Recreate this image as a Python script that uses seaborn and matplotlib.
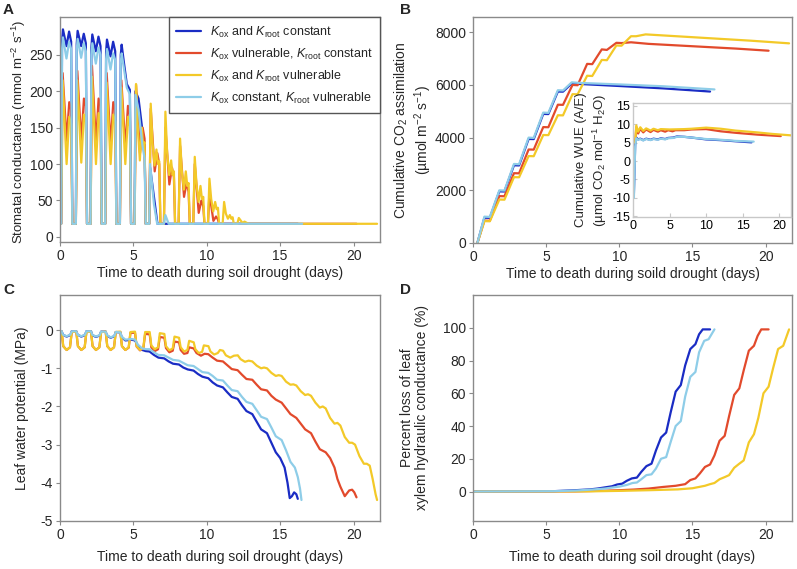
import matplotlib
matplotlib.use("Agg")
import matplotlib.pyplot as plt
import seaborn as sns

# ---- series names and colours -------------------------------------------
labels = [
    r"$K_{\mathrm{ox}}$ and $K_{\mathrm{root}}$ constant",
    r"$K_{\mathrm{ox}}$ vulnerable, $K_{\mathrm{root}}$ constant",
    r"$K_{\mathrm{ox}}$ and $K_{\mathrm{root}}$ vulnerable",
    r"$K_{\mathrm{ox}}$ constant, $K_{\mathrm{root}}$ vulnerable",
]
colors = ["#1a2cc4", "#e24a2c", "#f3c928", "#8ecde8"]

# ---- A: stomatal conductance (day, mmol m-2 s-1) ---------------------------
gs_dark = [
    (0, 18), (0.08, 18), (0.14, 268), (0.2, 285), (0.44, 262), (0.62, 282), (0.76, 268), (0.84, 18),
    (1.08, 18), (1.14, 265), (1.2, 283), (1.44, 262), (1.62, 279), (1.76, 266), (1.84, 18),
    (2.08, 18), (2.14, 260), (2.2, 278), (2.44, 255), (2.62, 275), (2.76, 262), (2.84, 18),
    (3.08, 18), (3.14, 254), (3.2, 271), (3.44, 248), (3.62, 268), (3.76, 255), (3.84, 18),
    (4.08, 18), (4.14, 250), (4.2, 264), (4.35, 240), (4.55, 210), (4.76, 202), (4.84, 18),
    (5.08, 18), (5.14, 200), (5.35, 190), (5.62, 145), (5.76, 128), (5.84, 18),
    (6.08, 18), (6.14, 95), (6.4, 55), (6.64, 18), (16.2, 18),
]
gs_red = [
    (0, 18), (0.08, 18), (0.18, 225), (0.45, 132), (0.63, 185), (0.76, 175), (0.84, 18),
    (1.08, 18), (1.18, 228), (1.45, 130), (1.63, 190), (1.76, 180), (1.84, 18),
    (2.08, 18), (2.18, 235), (2.45, 128), (2.63, 190), (2.76, 180), (2.84, 18),
    (3.08, 18), (3.18, 225), (3.45, 126), (3.63, 185), (3.76, 175), (3.84, 18),
    (4.08, 18), (4.18, 215), (4.45, 122), (4.63, 180), (4.76, 168), (4.84, 18),
    (5.08, 18), (5.18, 208), (5.45, 115), (5.63, 150), (5.76, 135), (5.84, 18),
    (6.08, 18), (6.18, 176), (6.45, 90), (6.63, 115), (6.76, 100), (6.84, 18),
    (7.08, 18), (7.18, 150), (7.45, 72), (7.63, 95), (7.76, 82), (7.84, 18),
    (8.08, 18), (8.18, 125), (8.45, 55), (8.63, 75), (8.76, 62), (8.84, 18),
    (9.08, 18), (9.18, 100), (9.45, 33), (9.63, 50), (9.76, 42), (9.84, 18),
    (10.08, 18), (10.18, 60), (10.45, 22), (10.63, 28), (10.76, 24), (10.84, 18), (20.2, 18),
]
gs_yellow = [
    (0, 18), (0.08, 18), (0.18, 215), (0.45, 100), (0.63, 165), (0.76, 155), (0.84, 18),
    (1.08, 18), (1.18, 215), (1.45, 102), (1.63, 168), (1.76, 158), (1.84, 18),
    (2.08, 18), (2.18, 220), (2.45, 100), (2.63, 170), (2.76, 160), (2.84, 18),
    (3.08, 18), (3.18, 212), (3.45, 100), (3.63, 168), (3.76, 158), (3.84, 18),
    (4.08, 18), (4.18, 205), (4.45, 100), (4.63, 165), (4.76, 152), (4.84, 18),
    (5.08, 18), (5.18, 210), (5.3, 150), (5.44, 105), (5.57, 150), (5.67, 125), (5.76, 130), (5.84, 18),
    (6.08, 18), (6.18, 183), (6.3, 130), (6.44, 98), (6.57, 120), (6.67, 100), (6.76, 104), (6.84, 18),
    (7.08, 18), (7.18, 172), (7.3, 115), (7.44, 85), (7.57, 105), (7.67, 85), (7.76, 90), (7.84, 18),
    (8.08, 18), (8.18, 135), (8.3, 90), (8.44, 65), (8.57, 90), (8.67, 70), (8.76, 74), (8.84, 18),
    (9.08, 18), (9.18, 110), (9.3, 72), (9.44, 48), (9.57, 70), (9.67, 52), (9.76, 55), (9.84, 18),
    (10.08, 18), (10.18, 80), (10.3, 52), (10.44, 35), (10.57, 48), (10.67, 38), (10.76, 40), (10.84, 18),
    (11.08, 18), (11.18, 48), (11.3, 32), (11.44, 25), (11.57, 30), (11.67, 25), (11.76, 27), (11.84, 18),
    (12.08, 18), (12.18, 26), (12.44, 19), (12.57, 21), (12.84, 18), (21.6, 18),
]
gs_light = [
    (0, 18), (0.08, 18), (0.14, 258), (0.2, 274), (0.44, 245), (0.62, 268), (0.76, 258), (0.84, 18),
    (1.08, 18), (1.14, 256), (1.2, 272), (1.44, 246), (1.62, 266), (1.76, 255), (1.84, 18),
    (2.08, 18), (2.14, 250), (2.2, 266), (2.44, 238), (2.62, 260), (2.76, 250), (2.84, 18),
    (3.08, 18), (3.14, 244), (3.2, 258), (3.44, 230), (3.62, 252), (3.76, 243), (3.84, 18),
    (4.08, 18), (4.14, 240), (4.2, 252), (4.35, 232), (4.55, 205), (4.76, 196), (4.84, 18),
    (5.08, 18), (5.14, 195), (5.35, 175), (5.62, 125), (5.76, 108), (5.84, 18),
    (6.08, 18), (6.14, 100), (6.4, 45), (6.62, 18),
    (7.08, 18), (7.18, 30), (7.4, 18), (16.5, 18),
]

# ---- B: cumulative CO2 assimilation ---------------------------------------
an_dark = [
    (0.3, 0), (0.78, 960), (1.15, 955), (1.8, 1960), (2.15, 1955), (2.8, 2950), (3.15, 2945),
    (3.8, 3950), (4.15, 3945), (4.8, 4900), (5.15, 4895), (5.8, 5750), (6.15, 5745),
    (6.75, 6060), (7.2, 6040), (10, 5960), (13, 5870), (16.2, 5750),
]
an_red = [
    (0.3, 0), (0.78, 850), (1.15, 845), (1.8, 1780), (2.15, 1775), (2.8, 2650), (3.15, 2645),
    (3.8, 3550), (4.15, 3545), (4.8, 4400), (5.15, 4395), (5.8, 5250), (6.15, 5245),
    (6.8, 6000), (7.15, 5990), (7.8, 6800), (8.15, 6790), (8.8, 7350), (9.15, 7330),
    (9.8, 7600), (10.15, 7590), (10.8, 7620), (12, 7560), (15, 7470), (18, 7380), (20.2, 7300),
]
an_yellow = [
    (0.3, 0), (0.78, 830), (1.15, 825), (1.8, 1650), (2.15, 1645), (2.8, 2500), (3.15, 2495),
    (3.8, 3300), (4.15, 3295), (4.8, 4100), (5.15, 4095), (5.8, 4850), (6.15, 4845),
    (6.8, 5650), (7.15, 5645), (7.8, 6350), (8.15, 6340), (8.8, 6950), (9.15, 6940),
    (9.8, 7500), (10.15, 7490), (10.8, 7850), (11.15, 7850), (11.8, 7920), (13, 7880),
    (16, 7780), (19, 7680), (21.6, 7580),
]
an_light = [
    (0.3, 0), (0.78, 1000), (1.15, 990), (1.8, 2000), (2.15, 1990), (2.8, 3000), (3.15, 2990),
    (3.8, 4000), (4.15, 3990), (4.8, 4950), (5.15, 4940), (5.8, 5800), (6.15, 5790),
    (6.75, 6100), (7.2, 6080), (10, 6020), (13, 5950), (16.5, 5830),
]

# ---- B inset: cumulative WUE ---------------------------------------------
wue_dark = [
    (0.12, -9), (0.3, 4.5), (0.45, 6.4), (0.7, 5.9), (1.0, 6.1), (1.4, 5.7), (1.8, 6.1),
    (2.4, 5.8), (2.8, 6.1), (3.4, 5.9), (3.8, 6.2), (4.4, 6.0), (4.8, 6.3), (5.5, 6.4),
    (6.0, 6.7), (7, 6.6), (8, 6.4), (10, 5.9), (12, 5.7), (14, 5.4), (16.2, 5.1),
]
wue_red = [
    (0.3, 5), (0.45, 9.2), (0.7, 7.5), (1.0, 8.8), (1.4, 7.8), (1.8, 8.6), (2.4, 7.9),
    (2.8, 8.5), (3.4, 8.0), (3.8, 8.4), (4.4, 8.0), (4.8, 8.4), (5.4, 8.1), (5.8, 8.4),
    (7, 8.4), (8, 8.6), (10, 8.7), (12, 8.1), (14, 7.7), (17, 7.2), (20.2, 6.8),
]
wue_yellow = [
    (0.3, 5), (0.45, 9.7), (0.7, 8.0), (1.0, 9.2), (1.4, 8.2), (1.8, 8.9), (2.4, 8.3),
    (2.8, 8.8), (3.4, 8.4), (3.8, 8.7), (5, 8.6), (7, 8.7), (8, 8.8), (10, 9.1),
    (12, 8.8), (14, 8.3), (17, 7.8), (19, 7.4), (21.6, 7.0),
]
wue_light = [
    (0.12, -10), (0.3, 4), (0.45, 6.2), (0.7, 5.8), (1.0, 6.0), (1.4, 5.6), (1.8, 6.0),
    (2.4, 5.7), (2.8, 6.0), (3.4, 5.8), (3.8, 6.1), (4.4, 5.9), (4.8, 6.2), (5.5, 6.3),
    (6.0, 6.6), (7, 6.6), (8, 6.4), (10, 6.0), (12, 5.8), (14, 5.5), (16.5, 5.3),
]

# ---- C: leaf water potential (MPa) ----------------------------------------
psi_dark = [
    (0, -0.02), (0.11, -0.03), (0.2, -0.12), (0.45, -0.17), (0.7, -0.13), (0.8, -0.03),
    (1.11, -0.03), (1.2, -0.12), (1.45, -0.17), (1.7, -0.13), (1.8, -0.03),
    (2.11, -0.03), (2.2, -0.13), (2.45, -0.18), (2.7, -0.14), (2.8, -0.04),
    (3.11, -0.04), (3.2, -0.14), (3.45, -0.2), (3.7, -0.16), (3.8, -0.05),
    (4.11, -0.06), (4.2, -0.18), (4.45, -0.27), (4.7, -0.26), (4.85, -0.25),
    (5.11, -0.27), (5.3, -0.4), (5.6, -0.52), (5.85, -0.55), (6.1, -0.56), (6.4, -0.65),
    (6.7, -0.72), (7.1, -0.74), (7.4, -0.82), (7.7, -0.88), (8.1, -0.9), (8.4, -0.98),
    (8.7, -1.03), (9.1, -1.06), (9.4, -1.15), (9.7, -1.22), (10.1, -1.26), (10.4, -1.37),
    (10.7, -1.45), (11.1, -1.5), (11.4, -1.63), (11.7, -1.75), (12.1, -1.8), (12.4, -1.97),
    (12.7, -2.12), (13.1, -2.2), (13.4, -2.4), (13.7, -2.6), (14.1, -2.7), (14.4, -2.95),
    (14.7, -3.2), (15.0, -3.35), (15.3, -3.6), (15.5, -4.0), (15.65, -4.4), (15.8, -4.35),
    (15.95, -4.25), (16.1, -4.3), (16.2, -4.42),
]
psi_red = [
    (0, -0.02), (0.11, -0.04), (0.22, -0.42), (0.45, -0.52), (0.68, -0.45), (0.8, -0.05),
    (1.11, -0.04), (1.22, -0.42), (1.45, -0.52), (1.68, -0.45), (1.8, -0.05),
    (2.11, -0.04), (2.22, -0.42), (2.45, -0.52), (2.68, -0.45), (2.8, -0.05),
    (3.11, -0.04), (3.22, -0.42), (3.45, -0.52), (3.68, -0.45), (3.8, -0.05),
    (4.11, -0.05), (4.22, -0.42), (4.45, -0.52), (4.68, -0.46), (4.8, -0.07),
    (5.11, -0.07), (5.22, -0.43), (5.45, -0.53), (5.68, -0.47), (5.8, -0.1),
    (6.11, -0.11), (6.22, -0.45), (6.45, -0.55), (6.68, -0.5), (6.8, -0.18),
    (7.11, -0.2), (7.22, -0.47), (7.45, -0.58), (7.68, -0.54), (7.8, -0.3),
    (8.11, -0.32), (8.22, -0.52), (8.45, -0.62), (8.68, -0.6), (8.8, -0.45),
    (9.11, -0.48), (9.3, -0.6), (9.6, -0.67), (9.85, -0.62), (10.1, -0.63), (10.4, -0.72),
    (10.7, -0.8), (11.1, -0.82), (11.4, -0.92), (11.7, -1.02), (12.1, -1.05), (12.4, -1.17),
    (12.7, -1.28), (13.1, -1.3), (13.4, -1.43), (13.7, -1.55), (14.1, -1.58), (14.4, -1.72),
    (14.7, -1.82), (15.1, -1.9), (15.4, -2.05), (15.7, -2.2), (16.1, -2.3), (16.4, -2.45),
    (16.7, -2.6), (17.1, -2.7), (17.4, -2.92), (17.7, -3.12), (18.1, -3.2), (18.4, -3.35),
    (18.7, -3.6), (18.9, -3.9), (19.1, -4.1), (19.4, -4.35), (19.7, -4.2), (19.9, -4.18),
    (20.05, -4.25), (20.2, -4.38),
]
psi_yellow = [
    (0, -0.02), (0.11, -0.04), (0.22, -0.42), (0.45, -0.52), (0.68, -0.45), (0.8, -0.05),
    (1.11, -0.04), (1.22, -0.42), (1.45, -0.52), (1.68, -0.45), (1.8, -0.05),
    (2.11, -0.04), (2.22, -0.42), (2.45, -0.52), (2.68, -0.45), (2.8, -0.05),
    (3.11, -0.04), (3.22, -0.42), (3.45, -0.52), (3.68, -0.45), (3.8, -0.05),
    (4.11, -0.04), (4.22, -0.42), (4.45, -0.52), (4.68, -0.45), (4.8, -0.05),
    (5.11, -0.04), (5.22, -0.42), (5.45, -0.52), (5.68, -0.45), (5.8, -0.05),
    (6.11, -0.05), (6.22, -0.4), (6.45, -0.5), (6.68, -0.45), (6.8, -0.08),
    (7.11, -0.1), (7.22, -0.42), (7.45, -0.53), (7.68, -0.48), (7.8, -0.17),
    (8.11, -0.2), (8.22, -0.45), (8.45, -0.56), (8.68, -0.52), (8.8, -0.28),
    (9.11, -0.32), (9.22, -0.5), (9.45, -0.6), (9.68, -0.57), (9.8, -0.4),
    (10.11, -0.42), (10.25, -0.56), (10.5, -0.64), (10.75, -0.6), (10.9, -0.52),
    (11.11, -0.54), (11.3, -0.66), (11.6, -0.72), (11.85, -0.67),
    (12.11, -0.66), (12.3, -0.76), (12.6, -0.83), (12.85, -0.8),
    (13.1, -0.82), (13.4, -0.93), (13.7, -1.0), (13.9, -0.98),
    (14.1, -1.0), (14.4, -1.12), (14.7, -1.2), (14.9, -1.18),
    (15.1, -1.2), (15.4, -1.35), (15.7, -1.43), (15.9, -1.42),
    (16.1, -1.45), (16.4, -1.6), (16.7, -1.7), (16.9, -1.68),
    (17.1, -1.72), (17.4, -1.9), (17.7, -2.03), (17.9, -2.0),
    (18.1, -2.05), (18.4, -2.3), (18.7, -2.45), (18.9, -2.43),
    (19.1, -2.5), (19.4, -2.8), (19.7, -2.95), (19.9, -2.95),
    (20.1, -3.0), (20.4, -3.3), (20.7, -3.5), (20.9, -3.5),
    (21.1, -3.55), (21.3, -3.9), (21.5, -4.3), (21.6, -4.45),
]
psi_light = [
    (0, -0.02), (0.11, -0.03), (0.2, -0.12), (0.45, -0.16), (0.7, -0.12), (0.8, -0.03),
    (1.11, -0.03), (1.2, -0.12), (1.45, -0.16), (1.7, -0.12), (1.8, -0.03),
    (2.11, -0.03), (2.2, -0.12), (2.45, -0.17), (2.7, -0.13), (2.8, -0.04),
    (3.11, -0.04), (3.2, -0.13), (3.45, -0.19), (3.7, -0.15), (3.8, -0.05),
    (4.11, -0.06), (4.2, -0.17), (4.45, -0.25), (4.7, -0.24), (4.85, -0.23),
    (5.11, -0.25), (5.3, -0.38), (5.6, -0.48), (5.85, -0.5), (6.1, -0.5), (6.4, -0.58),
    (6.7, -0.65), (7.1, -0.66), (7.4, -0.72), (7.7, -0.78), (8.1, -0.8), (8.4, -0.86),
    (8.7, -0.92), (9.1, -0.94), (9.4, -1.02), (9.7, -1.1), (10.1, -1.12), (10.4, -1.2),
    (10.7, -1.3), (11.1, -1.32), (11.4, -1.45), (11.7, -1.57), (12.1, -1.6), (12.4, -1.75),
    (12.7, -1.88), (13.1, -1.93), (13.4, -2.1), (13.7, -2.27), (14.1, -2.33), (14.4, -2.55),
    (14.7, -2.78), (15.1, -2.88), (15.4, -3.15), (15.7, -3.45), (16.0, -3.6), (16.2, -3.85),
    (16.35, -4.15), (16.45, -4.45),
]

# ---- D: percent loss of leaf xylem conductance ----------------------------
plc_dark = [
    (0, 0), (5.5, 0.2), (7, 0.8), (8, 1.3), (8.5, 1.8), (9, 2.5), (9.5, 3.2), (9.85, 4.3),
    (10.2, 4.8), (10.5, 6.5), (10.85, 8), (11.2, 8.5), (11.5, 12), (11.85, 15.5), (12.2, 17),
    (12.5, 25), (12.85, 33), (13.2, 36), (13.5, 48), (13.85, 61), (14.2, 65), (14.5, 77),
    (14.85, 87), (15.2, 90), (15.45, 96), (15.7, 99), (16.2, 99),
]
plc_red = [
    (0, 0), (7, 0.1), (9, 0.5), (10, 0.8), (11, 1.2), (12, 1.8), (13, 2.8), (13.85, 3.5),
    (14.5, 4.5), (14.85, 7), (15.2, 8), (15.5, 11), (15.85, 15), (16.2, 16.5), (16.5, 22),
    (16.85, 31), (17.2, 34), (17.5, 46), (17.85, 59), (18.2, 63), (18.5, 74), (18.85, 86),
    (19.2, 89), (19.45, 95), (19.7, 99), (20.2, 99),
]
plc_yellow = [
    (0, 0), (8, 0.1), (10, 0.4), (12, 0.8), (14, 1.3), (15, 2), (15.85, 3.5), (16.2, 4.5),
    (16.5, 5.2), (16.85, 7.5), (17.2, 8.8), (17.5, 10), (17.85, 14.5), (18.2, 17), (18.5, 19),
    (18.85, 30), (19.2, 35), (19.5, 45), (19.85, 60), (20.2, 64), (20.5, 75), (20.85, 87),
    (21.2, 89), (21.4, 94), (21.6, 99),
]
plc_light = [
    (0, 0), (5.5, 0.2), (7, 0.6), (8, 1.1), (9, 1.8), (10, 3), (10.5, 4), (10.9, 5.2),
    (11.2, 5.5), (11.5, 7.5), (11.85, 10), (12.2, 10.5), (12.5, 14), (12.85, 20), (13.2, 21),
    (13.5, 30), (13.85, 40), (14.2, 43), (14.5, 58), (14.85, 70), (15.2, 73), (15.45, 85),
    (15.8, 92), (16.1, 93), (16.3, 96), (16.5, 99),
]

xticks = [0, 5, 10, 15, 20]

sns.set_style("ticks")
plt.rcParams["font.family"] = ["Liberation Sans", "DejaVu Sans"]
plt.rcParams["mathtext.fontset"] = "custom"
plt.rcParams["mathtext.rm"] = "Liberation Sans"
plt.rcParams["mathtext.it"] = "Liberation Sans:italic"
plt.rcParams["mathtext.bf"] = "Liberation Sans:bold"
plt.rcParams["axes.unicode_minus"] = False

W, H = 797, 569
fig = plt.figure(figsize=(W / 100, H / 100), dpi=100)


def box(x0, y0, x1, y1):
    # pixel box -> figure fraction
    return [x0 / W, 1 - y1 / H, (x1 - x0) / W, (y1 - y0) / H]


def style(ax, inner=False, size=10, edge="#8a8a8a"):
    for s in ax.spines.values():
        s.set_visible(True)
        s.set_color(edge)
        s.set_linewidth(1.0)
    ax.tick_params(direction="in" if inner else "out", length=3, width=0.8,
                   color=edge, labelsize=size, pad=2)


def draw(ax, series, legend=False):
    for i, pts in enumerate(series):
        xs = [p[0] for p in pts]
        ys = [p[1] for p in pts]
        sns.lineplot(x=xs, y=ys, ax=ax, color=colors[i], lw=1.6, estimator=None,
                     sort=False, label=labels[i] if legend else None, legend=legend)


axA = fig.add_axes(box(60, 17, 380, 242))
axB = fig.add_axes(box(473, 17, 792, 243))
axC = fig.add_axes(box(60, 295, 380, 521))
axD = fig.add_axes(box(473, 295, 792, 521))
axI = fig.add_axes(box(633, 103, 791, 217))

# A
draw(axA, [gs_dark, gs_red, gs_yellow, gs_light], legend=True)
axA.set_xlim(0, 21.8)
axA.set_ylim(-7, 302)
axA.set_yticks([0, 50, 100, 150, 200, 250])
axA.set_xticks(xticks)
axA.set_xlabel("Time to death during soil drought (days)", fontsize=10, labelpad=2)
axA.set_ylabel(r"Stomatal conductance (mmol m$^{-2}$ s$^{-1}$)", fontsize=9.5, labelpad=1.5)
axA.yaxis.label.set_y(0.49)
style(axA)
leg = axA.legend(loc="upper right", borderaxespad=0, fontsize=9, frameon=True,
                 fancybox=False, framealpha=1, edgecolor="#555555", handlelength=2.0,
                 labelspacing=0.55, borderpad=0.6, handletextpad=0.7)
leg.get_frame().set_linewidth(1.0)

# B
draw(axB, [an_dark, an_red, an_yellow, an_light])
axB.set_xlim(0, 21.8)
axB.set_ylim(0, 8580)
axB.set_yticks([0, 2000, 4000, 6000, 8000])
axB.set_xticks(xticks)
axB.set_xlabel("Time to death during soild drought (days)", fontsize=10, labelpad=2)
axB.set_ylabel("Cumulative CO$_2$ assimilation\n(µmol m$^{-2}$ s$^{-1}$)", fontsize=10,
               labelpad=1, linespacing=1.15)
style(axB)

# B inset
draw(axI, [wue_dark, wue_red, wue_yellow, wue_light])
axI.set_xlim(0, 21.6)
axI.set_ylim(-15.2, 15.8)
axI.set_yticks([15, 10, 5, 0, -5, -10, -15])
axI.set_xticks(xticks)
axI.set_ylabel("Cumulative WUE (A/E)\n(µmol CO$_2$ mol$^{-1}$ H$_2$O)", fontsize=9.5,
               labelpad=2, linespacing=1.3)
style(axI, inner=True, size=9, edge="#c8c8c8")
axI.tick_params(colors="#c8c8c8", labelcolor="black")

# C
draw(axC, [psi_dark, psi_red, psi_yellow, psi_light])
axC.set_xlim(0, 21.8)
axC.set_ylim(-5, 0.92)
axC.set_yticks([0, -1, -2, -3, -4, -5])
axC.set_xticks(xticks)
axC.set_xlabel("Time to death during soil drought (days)", fontsize=10, labelpad=6)
axC.set_ylabel("Leaf water potential (MPa)", fontsize=10, labelpad=8)
style(axC)

# D
draw(axD, [plc_dark, plc_red, plc_yellow, plc_light])
axD.set_xlim(0, 21.8)
axD.set_ylim(-18, 120)
axD.set_yticks([0, 20, 40, 60, 80, 100])
axD.set_xticks(xticks)
axD.set_xlabel("Time to death during soil drought (days)", fontsize=10, labelpad=6)
axD.set_ylabel("Percent loss of leaf\nxylem hydraulic conductance (%)", fontsize=10,
               labelpad=10, linespacing=1.1)
style(axD)

for letter, x, y in [("A", 3, 3), ("B", 400, 3), ("C", 3, 283), ("D", 400, 283)]:
    fig.text(x / W, 1 - y / H, letter, fontsize=11, fontweight="bold", va="top", ha="left")

fig.savefig("out.png", dpi=100)
